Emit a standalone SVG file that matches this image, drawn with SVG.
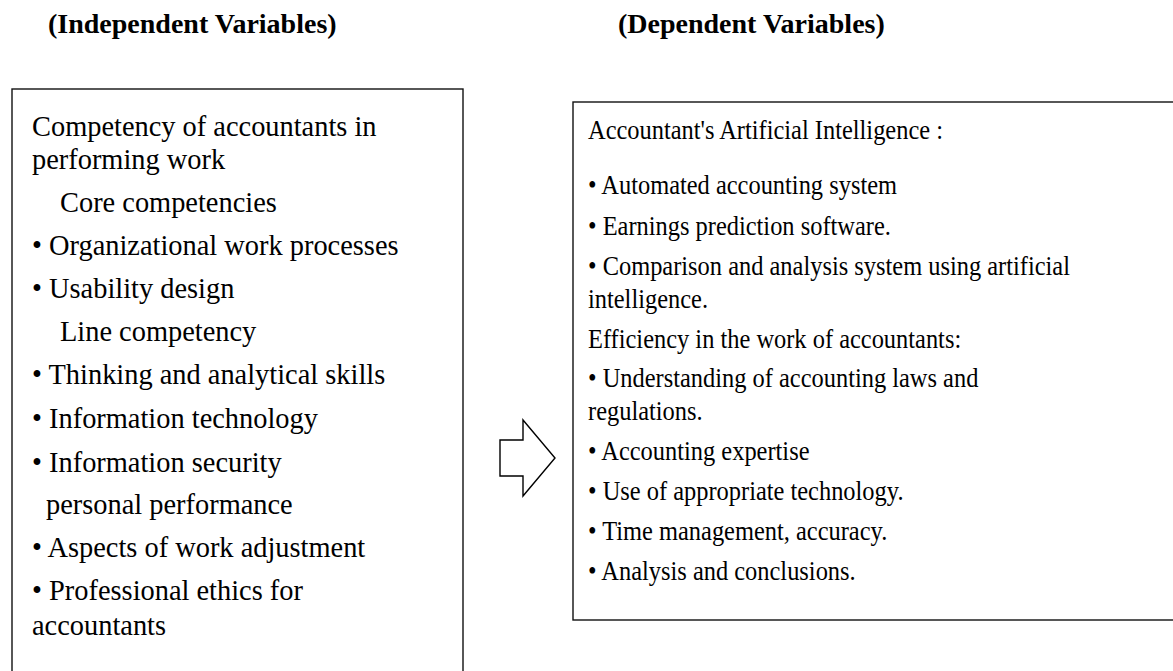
<svg xmlns="http://www.w3.org/2000/svg" width="1173" height="671" viewBox="0 0 1173 671">
  <style>
    .title { font-family: "Liberation Serif", "Times New Roman", serif; font-weight: bold; font-size: 28px; fill: #000; }
    .box { fill: #fff; stroke: #111; stroke-width: 1.4; }
    .lt { font-family: "Liberation Serif", "Times New Roman", serif; font-size: 28.4px; fill: #000; }
    .rt { font-family: "Liberation Serif", "Times New Roman", serif; font-size: 27px; fill: #000; }
    .arrow { fill: #fff; stroke: #000; stroke-width: 1.4; stroke-linejoin: miter; }
  </style>
  <rect width="1173" height="671" fill="#fff"/>

  <!-- column headings -->
  <text class="title" x="48" y="33">(Independent Variables)</text>
  <text class="title" x="618" y="33">(Dependent Variables)</text>

  <!-- independent variables box -->
  <g id="independent">
    <rect class="box" x="12" y="89" width="451" height="600"/>
    <text class="lt" x="32" y="136">Competency of accountants in</text>
    <text class="lt" x="32" y="169">performing work</text>
    <text class="lt" x="60" y="212">Core competencies</text>
    <text class="lt" x="32" y="255">• Organizational work processes</text>
    <text class="lt" x="32" y="298">• Usability design</text>
    <text class="lt" x="60" y="341">Line competency</text>
    <text class="lt" x="32" y="384">• Thinking and analytical skills</text>
    <text class="lt" x="32" y="428">• Information technology</text>
    <text class="lt" x="32" y="472">• Information security</text>
    <text class="lt" x="46" y="514">personal performance</text>
    <text class="lt" x="32" y="557">• Aspects of work adjustment</text>
    <text class="lt" x="32" y="600">• Professional ethics for</text>
    <text class="lt" x="32" y="635">accountants</text>
  </g>

  <!-- connector: block arrow -->
  <g id="connectors">
    <path class="arrow" d="M500,440 L523,440 L523,420 L555,458 L523,496 L523,476 L500,476 Z"/>
  </g>

  <!-- dependent variables box -->
  <g id="dependent">
    <rect class="box" x="573" y="102" width="620" height="518"/>
    <g transform="translate(588 0) scale(0.905 1)">
      <text class="rt" x="0" y="139">Accountant's Artificial Intelligence :</text>
      <text class="rt" x="0" y="194">• Automated accounting system</text>
      <text class="rt" x="0" y="235">• Earnings prediction software.</text>
      <text class="rt" x="0" y="275">• Comparison and analysis system using artificial</text>
      <text class="rt" x="0" y="308">intelligence.</text>
      <text class="rt" x="0" y="348">Efficiency in the work of accountants:</text>
      <text class="rt" x="0" y="387">• Understanding of accounting laws and</text>
      <text class="rt" x="0" y="420">regulations.</text>
      <text class="rt" x="0" y="460">• Accounting expertise</text>
      <text class="rt" x="0" y="500">• Use of appropriate technology.</text>
      <text class="rt" x="0" y="540">• Time management, accuracy.</text>
      <text class="rt" x="0" y="580">• Analysis and conclusions.</text>
    </g>
  </g>
</svg>
